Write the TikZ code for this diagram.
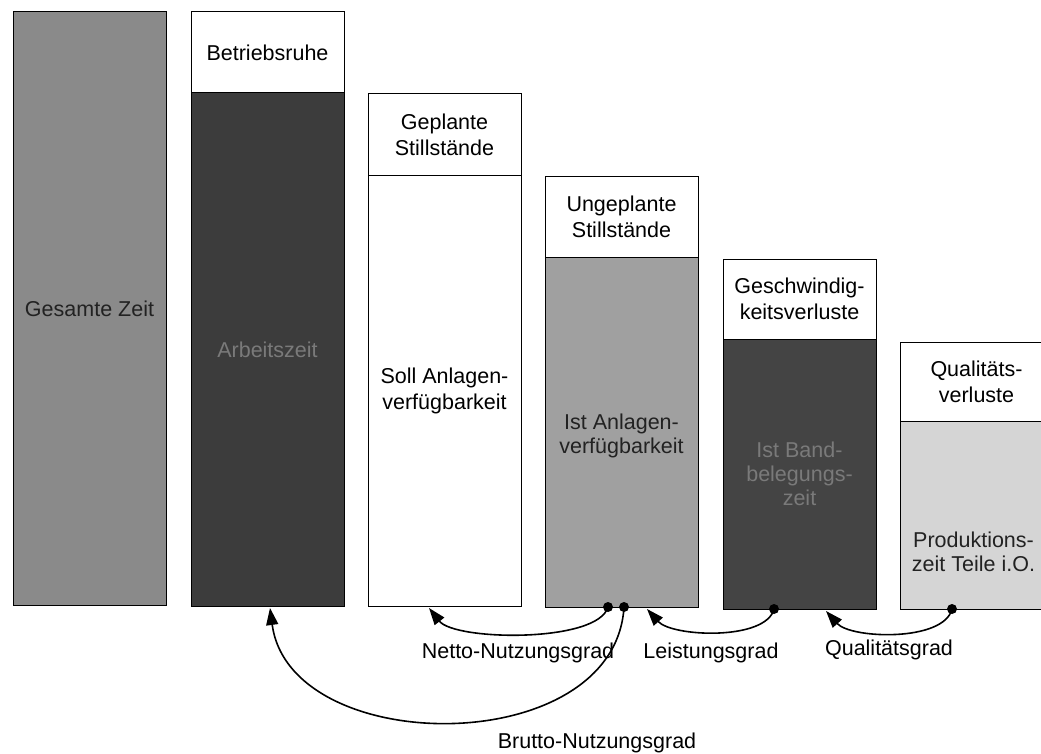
\documentclass[tikz,border=0pt]{standalone}
\usepackage{fontspec}
\setmainfont{Liberation Sans}
\usetikzlibrary{calc,arrows.meta}
% screen tones of the bar bodies
\definecolor{toneA}{HTML}{8A8A8A}
\definecolor{toneB}{HTML}{3C3C3C}
\definecolor{toneC}{HTML}{A0A0A0}
\definecolor{toneD}{HTML}{444444}
\definecolor{toneE}{HTML}{D5D5D5}
\definecolor{inkDark}{HTML}{222222}
\definecolor{inkLight}{HTML}{7A7A7A}
\begin{document}
\begin{tikzpicture}[x=1pt,y=-1pt,
  box/.style={draw=black, line width=1pt, anchor=north west, inner sep=0pt,
              outer sep=0pt, minimum width=153pt},
  txt/.style={inner sep=0pt, align=center, font=\fontsize{21.5}{26}\selectfont},
  tighttxt/.style={txt, font=\fontsize{21.5}{24}\selectfont},
  lbl/.style={inner sep=0pt, anchor=base, font=\fontsize{21.5}{26}\selectfont},
  conn/.style={line width=1.6pt, -{Triangle[length=17pt,width=12pt]}},
  dot/.style={circle, fill=black, inner sep=0pt, minimum size=10pt}]
\useasboundingbox (0,0) rectangle (1041,754);
\clip (0,0) rectangle (1041,754);
\fill[white] (0,0) rectangle (1041,754);

% Gesamte Zeit
\node[box, fill=toneA, minimum height=593pt] (b1) at (13,12) {};
\node[txt, text=inkDark] (t1) at (b1.center) {Gesamte Zeit};

% Betriebsruhe / Arbeitszeit
\node[box, fill=white, minimum height=81pt] (h2) at (191,12) {};
\node[box, fill=toneB, minimum height=513pt] (b2) at (191,93) {};
\node[txt] (s2) at (h2.center) {Betriebsruhe};
\node[txt, text=inkLight] (t2) at (b2.center) {Arbeitszeit};

% Geplante Stillstaende / Soll Anlagenverfuegbarkeit
\node[box, fill=white, minimum height=82pt] (h3) at (368,94) {};
\node[box, fill=white, minimum height=430pt] (b3) at (368,176) {};
\node[txt] (s3) at (h3.center) {Geplante\\Stillstände};
\node[txt] (t3) at (b3.center) {Soll Anlagen-\\verfügbarkeit};

% Ungeplante Stillstaende / Ist Anlagenverfuegbarkeit
\node[box, fill=white, minimum height=80pt] (h4) at (545,177) {};
\node[box, fill=toneC, minimum height=350pt] (b4) at (545,257) {};
\node[txt] (s4) at (h4.center) {Ungeplante\\Stillstände};
\node[tighttxt, text=inkDark] (t4) at ($(b4.center)+(0,4)$) {Ist Anlagen-\\verfügbarkeit};

% Geschwindigkeitsverluste / Ist Bandbelegungszeit
\node[box, fill=white, minimum height=80pt] (h5) at (723,259) {};
\node[box, fill=toneD, minimum height=270pt] (b5) at (723,339) {};
\node[txt] (s5) at (h5.center) {Geschwindig-\\keitsverluste};
\node[tighttxt, text=inkLight] (t5) at (b5.center) {Ist Band-\\belegungs-\\zeit};

% Qualitaetsverluste / Produktionszeit Teile i.O.
\node[box, fill=white, minimum height=79pt] (h6) at (900,342) {};
\node[box, fill=toneE, minimum height=188pt] (b6) at (900,421) {};
\node[txt] (s6) at (h6.center) {Qualitäts-\\verluste};
\node[tighttxt, text=inkDark] (t6) at ($(b6.center)+(-3,37)$) {Produktions-\\zeit Teile i.O.};

% attachment points of the ratio arrows
\coordinate (nS) at ($(b4.south west)+(63,0)$);
\coordinate (nE) at ($(b3.south west)+(61,2)$);
\coordinate (bS) at ($(b4.south west)+(79,0)$);
\coordinate (bE) at ($(b2.south west)+(79,2)$);
\coordinate (lS) at ($(b5.south west)+(51,0)$);
\coordinate (lE) at ($(b4.south west)+(102,2)$);
\coordinate (qS) at ($(b6.south west)+(52,0)$);
\coordinate (qE) at ($(b5.south west)+(103,2)$);

\draw[conn] (nS) .. controls +(-10,36) and +(26,33) .. (nE);
\draw[conn] (bS) .. controls +(-9,153) and +(20,151) .. (bE);
\draw[conn] (lS) .. controls +(-8,32) and +(25,28) .. (lE);
\draw[conn] (qS) .. controls +(-8,33) and +(25,28) .. (qE);

\node[dot] (dn) at (nS) {};
\node[dot] (db) at (bS) {};
\node[dot] (dl) at (lS) {};
\node[dot] (dq) at (qS) {};

% ratio labels
\node[lbl] (ln) at (518,658) {Netto-Nutzungsgrad};
\node[lbl] (ll) at (711,658) {Leistungsgrad};
\node[lbl] (lq) at (889,655) {Qualitätsgrad};
\node[lbl] (lb) at (597,748) {Brutto-Nutzungsgrad};
\end{tikzpicture}
\end{document}
